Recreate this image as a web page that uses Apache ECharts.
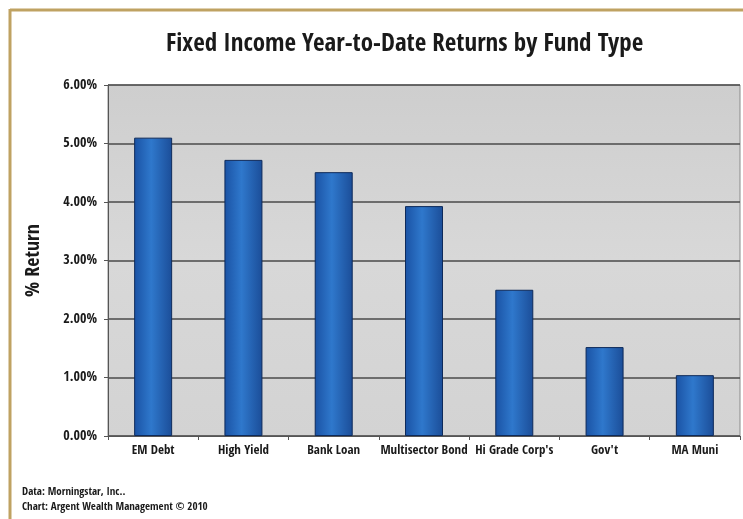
<!DOCTYPE html>
<html>
<head>
<meta charset="utf-8">
<script src="https://cdn.jsdelivr.net/npm/echarts@6/dist/echarts.min.js"></script>
<style>
  html, body { margin: 0; padding: 0; background: #ffffff; }
  #chartId { width: 743px; height: 519px; }
</style>
</head>
<body>
<div id="chartId"></div>
<script>
// 数据
const categories = ['EM Debt', 'High Yield', 'Bank Loan', 'Multisector Bond', "Hi Grade Corp's", "Gov't", 'MA Muni'];
const returns = [5.10, 4.72, 4.51, 3.93, 2.50, 1.52, 1.04];
const tickValues = [0, 1, 2, 3, 4, 5, 6];

const fontFam = "'Open Sans Condensed', 'Roboto Condensed', sans-serif";
const axisColor = '#555555';
const goldColor = '#bfa262';

const myChart = echarts.init(document.getElementById('chartId'));

const option = {
  backgroundColor: '#ffffff',
  animation: false,
  title: {
    text: 'Fixed Income Year-to-Date Returns by Fund Type',
    left: 161,
    top: 27,
    textStyle: {
      color: '#1a1a1a',
      fontFamily: fontFam,
      fontWeight: 'bold',
      fontSize: 25,
    },
  },
  grid: {
    left: 108,
    right: 3,
    top: 85,
    bottom: 83,
    show: true,
    backgroundColor: new echarts.graphic.LinearGradient(0, 0, 0, 1, [
      { offset: 0, color: '#cecece' },
      { offset: 0.5, color: '#d8d8d8' },
      { offset: 1, color: '#d3d3d3' },
    ]),
    borderColor: '#8a8a8a',
    borderWidth: 1,
  },
  xAxis: {
    type: 'category',
    data: categories,
    axisLine: { lineStyle: { color: axisColor, width: 1 } },
    axisTick: { show: true, length: 4, lineStyle: { color: axisColor } },
    axisLabel: {
      interval: 0,
      color: '#1a1a1a',
      fontFamily: fontFam,
      fontWeight: 'bold',
      fontSize: 13,
      margin: 8,
    },
  },
  yAxis: {
    type: 'value',
    min: tickValues[0],
    max: tickValues[tickValues.length - 1],
    interval: 1,
    name: '% Return',
    nameLocation: 'middle',
    nameGap: 64,
    nameTextStyle: {
      color: '#1a1a1a',
      fontFamily: fontFam,
      fontWeight: 'bold',
      fontSize: 20,
    },
    axisLine: { show: true, lineStyle: { color: axisColor } },
    axisTick: { show: true, length: 4, lineStyle: { color: axisColor } },
    axisLabel: {
      color: '#1a1a1a',
      fontFamily: fontFam,
      fontWeight: 'bold',
      fontSize: 14,
      margin: 11,
      formatter: (v) => v.toFixed(2) + '%',
    },
    splitLine: { lineStyle: { color: '#4a4a4a', width: 1.5 } },
  },
  series: [
    {
      type: 'bar',
      data: returns,
      barWidth: 38,
      itemStyle: {
        color: new echarts.graphic.LinearGradient(0, 0, 1, 0, [
          { offset: 0, color: '#1a52a4' },
          { offset: 0.45, color: '#2f78cc' },
          { offset: 1, color: '#1b4d98' },
        ]),
        borderColor: '#0e2a5a',
        borderWidth: 1,
      },
    },
  ],
  graphic: [
    // 金色边框
    { type: 'line', shape: { x1: 10, y1: 10, x2: 743, y2: 10 }, style: { stroke: goldColor, lineWidth: 3 } },
    { type: 'line', shape: { x1: 10, y1: 9, x2: 10, y2: 519 }, style: { stroke: goldColor, lineWidth: 3 } },
    {
      type: 'text',
      left: 22,
      top: 485,
      style: {
        text: 'Data: Morningstar, Inc..\nChart: Argent Wealth Management © 2010',
        fill: '#1a1a1a',
        font: 'bold 11px ' + fontFam,
        lineHeight: 15,
      },
    },
  ],
};

myChart.setOption(option);
</script>
</body>
</html>
